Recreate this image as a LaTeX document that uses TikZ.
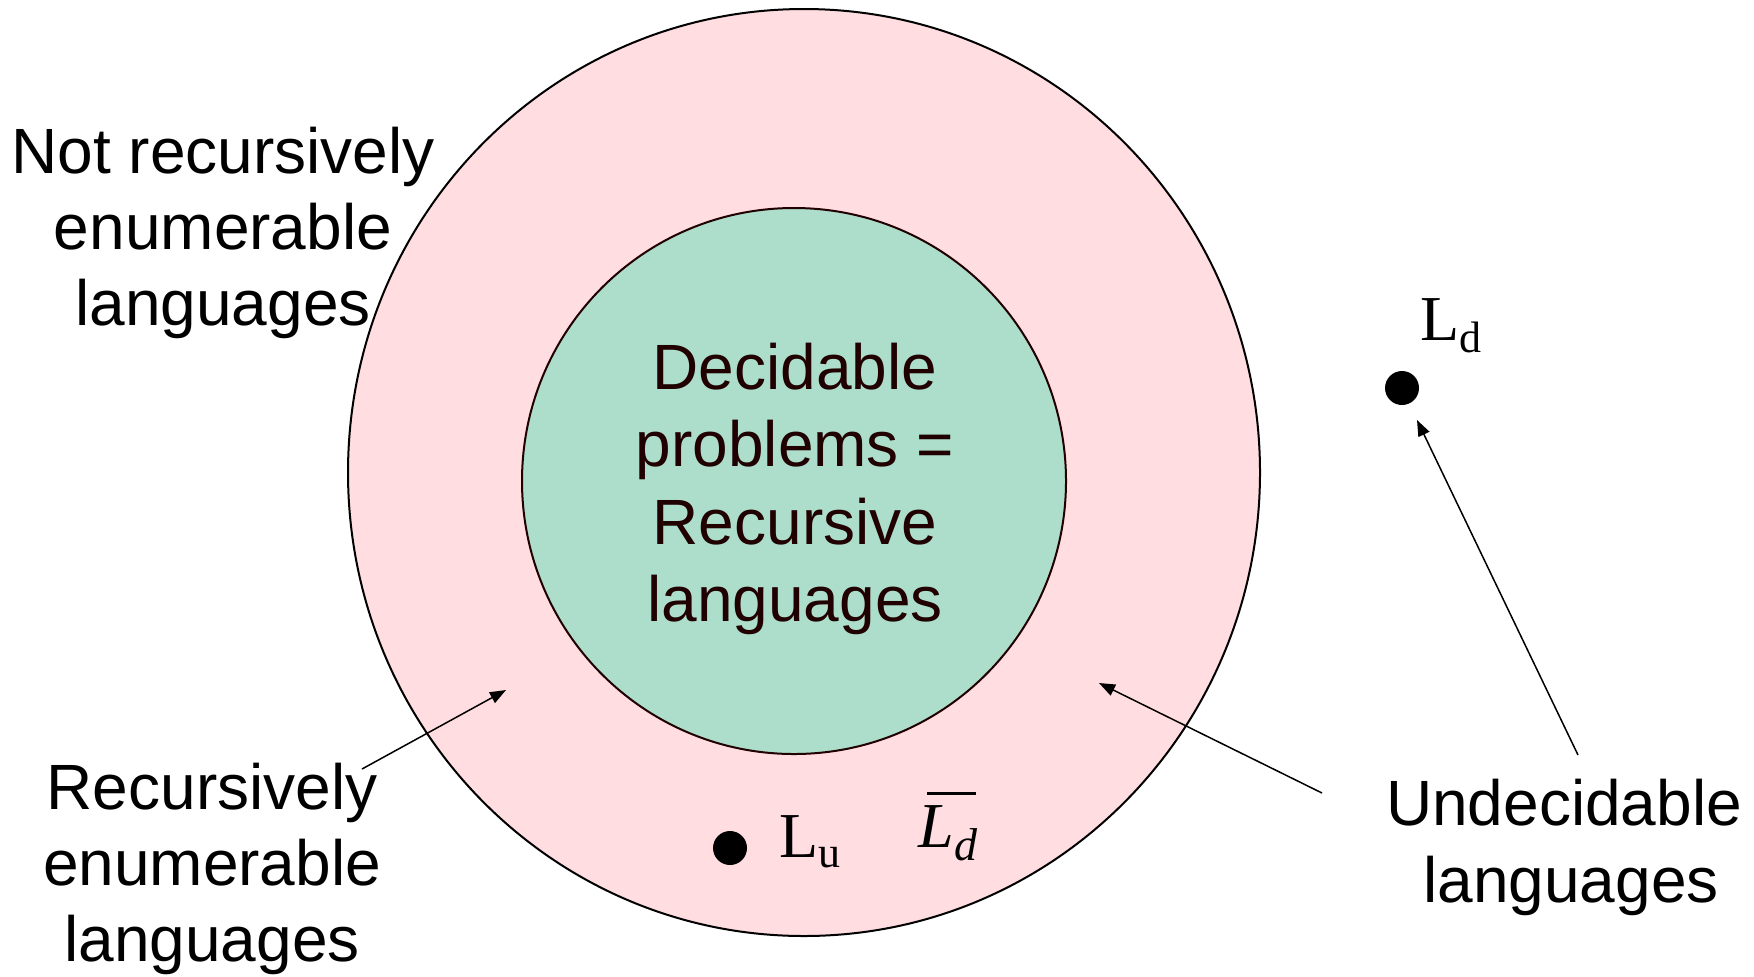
\documentclass[tikz,border=0pt]{standalone}
\usepackage{fontspec}
\setmainfont{Liberation Sans}
\newfontfamily\tms{Liberation Serif}
\usetikzlibrary{arrows.meta,shapes.geometric}
\definecolor{rpink}{HTML}{FFDDE1}
\definecolor{rmint}{HTML}{ADDECB}
\definecolor{rdark}{HTML}{200000}
\begin{document}
\begin{tikzpicture}[x=0.5pt,y=-0.5pt,
  lbl/.style={font=\fontsize{32}{38}\selectfont, inner sep=0pt, anchor=base},
  inlbl/.style={lbl, text=rdark},
  ptr/.style={-{Triangle[length=8pt,width=6pt]}, line width=0.75pt},
  dotmark/.style={circle, fill=black, minimum size=17pt, inner sep=0pt},
  sym/.style={font=\tms\fontsize{32}{38}\selectfont, inner sep=0pt, anchor=base west},
  region/.style={ellipse, inner sep=0pt, line width=1pt}]
\useasboundingbox (0,0) rectangle (1754,976);
% regions
\node[region, draw=black, fill=rpink, minimum width=456pt, minimum height=463.5pt] (outer) at (804,472.5) {};
\node[region, draw=rdark, fill=rmint, minimum width=272pt, minimum height=273pt] (inner) at (794,481) {};
% inner text
\node[inlbl] (d1) at (795,389) {Decidable};
\node[inlbl] (d2) at (795,466) {problems =};
\node[inlbl] (d3) at (795,544) {Recursive};
\node[inlbl] (d4) at (795,621) {languages};
% top-left
\node[lbl] (n1) at (223,173) {Not recursively};
\node[lbl] (n2) at (223,249) {enumerable};
\node[lbl] (n3) at (223,325) {languages};
% lower-left
\node[lbl] (r1) at (212,809) {Recursively};
\node[lbl] (r2) at (212,885) {enumerable};
\node[lbl] (r3) at (212,961) {languages};
% right
\node[lbl] (u1) at (1564,825) {Undecidable};
\node[lbl] (u2) at (1571,902) {languages};
% dots and symbols
\node[dotmark] (lud) at (730,848) {};
\node[sym] (lul) at (779,857) {L\raisebox{-5pt}{\fontsize{22}{22}\selectfont u}};
\node[dotmark] (ldd) at (1402,388) {};
\node[sym] (ldl) at (1420,340) {L\raisebox{-6pt}{\fontsize{22}{22}\selectfont d}};
\node[sym] (ldbar) at (918,847) {\itshape\rlap{\hspace{4.5pt}\raisebox{26pt}{\rule{24.5pt}{1.5pt}}}L\raisebox{-6.5pt}{\fontsize{23}{23}\selectfont\itshape d}};
% arrows
\coordinate (a1s) at (362,769);
\coordinate (a1e) at (506,690);
\coordinate (a2s) at (1322,793);
\coordinate (a2e) at (1099,683);
\coordinate (a3s) at (1578,755);
\coordinate (a3e) at (1417,420);
\draw[ptr] (a1s) -- (a1e);
\draw[ptr] (a2s) -- (a2e);
\draw[ptr] (a3s) -- (a3e);
\end{tikzpicture}
\end{document}
